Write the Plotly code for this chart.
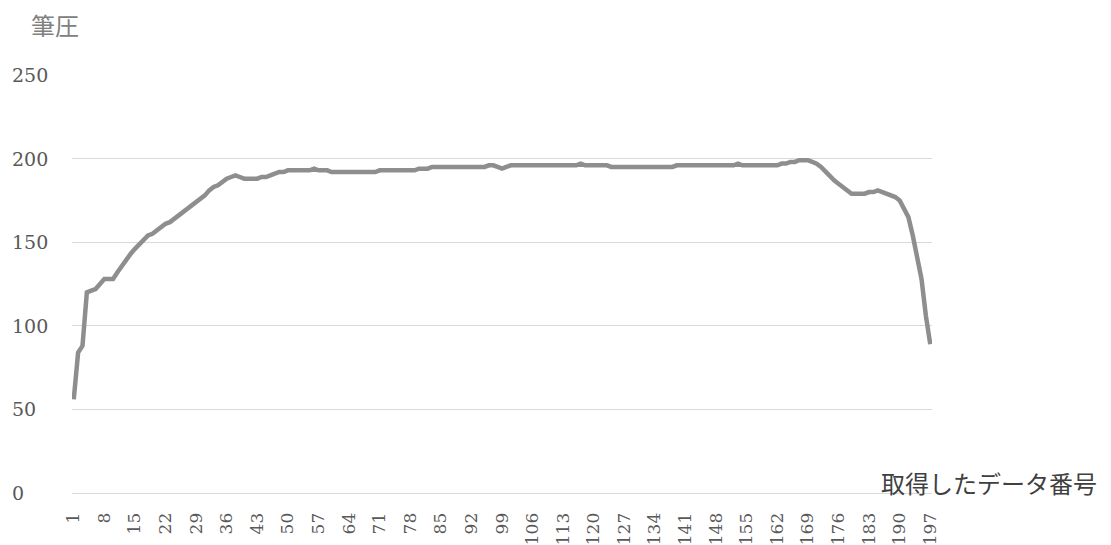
import plotly.graph_objects as go

# Pen pressure samples, one per acquired data index
sample_no = list(range(1, 198))
pressure = [
    56, 84, 88, 120, 121, 122, 125, 128, 128, 128,
    132, 136, 140, 143, 146, 149, 151, 154, 155, 157,
    159, 161, 162, 164, 166, 168, 170, 172, 174, 176,
    178, 181, 183, 184, 186, 188, 189, 190, 189, 188,
    188, 188, 188, 189, 189, 190, 191, 192, 192, 193,
    193, 193, 193, 193, 193, 194, 193, 193, 193, 192,
    192, 192, 192, 192, 192, 192, 192, 192, 192, 192,
    193, 193, 193, 193, 193, 193, 193, 193, 193, 194,
    194, 194, 195, 195, 195, 195, 195, 195, 195, 195,
    195, 195, 195, 195, 195, 196, 196, 195, 194, 195,
    196, 196, 196, 196, 196, 196, 196, 196, 196, 196,
    196, 196, 196, 196, 196, 196, 197, 196, 196, 196,
    196, 196, 196, 195, 195, 195, 195, 195, 195, 195,
    195, 195, 195, 195, 195, 195, 195, 195, 196, 196,
    196, 196, 196, 196, 196, 196, 196, 196, 196, 196,
    196, 196, 197, 196, 196, 196, 196, 196, 196, 196,
    196, 196, 197, 197, 198, 198, 199, 199, 199, 198,
    197, 195, 192, 190, 187, 185, 183, 181, 179, 179,
    179, 179, 180, 180, 181, 180, 179, 178, 177, 175,
    170, 165, 154, 141, 128, 106, 89,
]

x_ticks = list(range(1, 198, 7))
y_ticks = [0, 50, 100, 150, 200, 250]

y_title = "筆圧"
x_title = "取得したデータ番号"

num_font = "DejaVu Serif"
jp_font = "Noto Sans CJK JP"

fig = go.Figure()
fig.add_trace(go.Scatter(
    x=sample_no,
    y=pressure,
    mode="lines",
    line=dict(color="#8e8e8e", width=4.5),
    hoverinfo="x+y",
    showlegend=False,
))

# left-aligned value labels for the vertical axis
for v in y_ticks:
    fig.add_annotation(
        x=-0.0721, xref="paper", y=v, yref="y",
        text=str(v), showarrow=False,
        xanchor="left", yanchor="middle",
        font=dict(family=num_font, size=19, color="#595959"),
    )

fig.add_annotation(
    x=-0.0198, xref="paper", y=1.12, yref="paper",
    text=y_title, showarrow=False,
    xanchor="center", yanchor="middle",
    font=dict(family=jp_font, size=24, color="#808080"),
)
fig.add_annotation(
    x=1.0663, xref="paper", y=0.025, yref="paper",
    text=x_title, showarrow=False,
    xanchor="center", yanchor="middle",
    font=dict(family=jp_font, size=24, color="#404040"),
)

fig.update_layout(
    width=1111,
    height=545,
    margin=dict(l=72, r=179, t=75, b=52, pad=0),
    paper_bgcolor="white",
    plot_bgcolor="white",
    xaxis=dict(
        range=[0.6, 197.4],
        tickmode="array",
        tickvals=x_ticks,
        ticktext=[str(t) for t in x_ticks],
        tickangle=-90,
        tickfont=dict(family=num_font, size=17, color="#595959"),
        showgrid=False,
        zeroline=False,
        showline=True,
        linecolor="#d9d9d9",
        linewidth=1,
        ticks="",
        ticklabelstandoff=12,
        automargin=False,
    ),
    yaxis=dict(
        range=[0, 250],
        tickvals=y_ticks,
        showticklabels=False,
        showgrid=True,
        gridcolor="#d9d9d9",
        gridwidth=1,
        zeroline=False,
        showline=False,
        automargin=False,
    ),
)

fig.write_html("out.html")
